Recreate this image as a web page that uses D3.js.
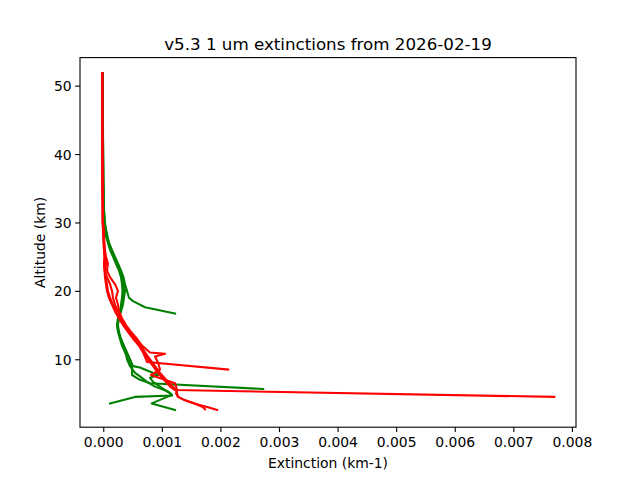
<!DOCTYPE html>
<html>
<head>
<meta charset="utf-8">
<script src="https://cdn.jsdelivr.net/npm/d3@7"></script>
<style>
html,body{margin:0;padding:0;background:#fff;}
text{font-family:"DejaVu Sans",sans-serif;fill:#000;}
</style>
</head>
<body>
<svg id="chart" width="640" height="480"></svg>
<script>
// Profiles: [altitude (km), extinction (km-1)]
const green1 = [[51.8,-0.012e-3],[46,-0.008e-3],[40,-0.004e-3],[36,0.0],[34,0.005e-3],[32,0.012e-3],[30,0.029e-3],[29,0.046e-3],[28,0.072e-3],[27,0.097e-3],[26,0.149e-3],[25,0.200e-3],[24,0.251e-3],[23,0.303e-3],[22,0.345e-3],[21,0.371e-3],[20,0.405e-3],[19,0.439e-3],[18.5,0.508e-3],[17.6,0.713e-3],[16.7,1.226e-3]];
const green2 = [[51.8,-0.010e-3],[45,-0.006e-3],[40,-0.003e-3],[36,0.0],[33,0.006e-3],[30,0.021e-3],[28,0.063e-3],[26,0.132e-3],[25,0.183e-3],[24,0.234e-3],[23,0.285e-3],[22,0.320e-3],[21,0.354e-3],[20,0.371e-3],[19,0.354e-3],[18,0.337e-3],[17,0.303e-3],[16,0.268e-3],[15,0.251e-3],[14,0.268e-3],[13,0.303e-3],[12,0.354e-3],[11,0.405e-3],[10,0.456e-3],[9,0.508e-3],[8.8,0.627e-3],[7.7,0.935e-3],[7.3,0.798e-3],[6.7,0.850e-3],[6,0.969e-3],[5.5,1.055e-3],[5,1.140e-3],[4.7,1.174e-3],[4.5,0.542e-3],[3.55,0.115e-3]];
const green3 = [[51.8,-0.010e-3],[45,-0.005e-3],[40,-0.002e-3],[36,0.001e-3],[33,0.008e-3],[30,0.012e-3],[28,0.046e-3],[26,0.115e-3],[25,0.166e-3],[24,0.217e-3],[23,0.268e-3],[22,0.303e-3],[21,0.320e-3],[20,0.328e-3],[19,0.320e-3],[18,0.303e-3],[17,0.285e-3],[16,0.251e-3],[15,0.234e-3],[14,0.251e-3],[13,0.285e-3],[12,0.320e-3],[11,0.371e-3],[10,0.422e-3],[9,0.474e-3],[8.8,0.491e-3],[7.7,0.491e-3],[7,0.627e-3],[6.5,0.798e-3],[5.65,2.730e-3]];
const green4 = [[51.8,-0.012e-3],[45,-0.007e-3],[40,-0.003e-3],[36,0.0],[33,0.005e-3],[30,0.018e-3],[28,0.055e-3],[26,0.125e-3],[25,0.175e-3],[24,0.225e-3],[23,0.277e-3],[22,0.312e-3],[21,0.337e-3],[20,0.354e-3],[19,0.345e-3],[18,0.320e-3],[17,0.294e-3],[16,0.260e-3],[15,0.243e-3],[14,0.260e-3],[13,0.294e-3],[12,0.337e-3],[11,0.388e-3],[10,0.405e-3],[9,0.456e-3],[8,0.542e-3],[7.5,0.627e-3],[6.7,0.747e-3],[6,0.884e-3],[5.3,1.106e-3],[4.8,1.174e-3],[3.55,0.827e-3],[2.6,1.226e-3]];

const red1 = [[51.8,-0.017e-3],[45,-0.017e-3],[40,-0.016e-3],[36,-0.014e-3],[33,-0.010e-3],[30,-0.005e-3],[29,0.003e-3],[28,0.012e-3],[27,0.012e-3],[26,0.021e-3],[25,0.029e-3],[24,0.046e-3],[23,0.029e-3],[22,0.046e-3],[21,0.063e-3],[20,0.080e-3],[19,0.115e-3],[18,0.166e-3],[17,0.217e-3],[16,0.268e-3],[15,0.337e-3],[14,0.422e-3],[13,0.508e-3],[12,0.610e-3],[11,0.696e-3],[10,0.764e-3],[9,0.850e-3],[8,0.935e-3],[7,1.038e-3],[6,1.140e-3],[5.5,1.226e-3],[4.5,7.70e-3]];
const red2 = [[51.8,-0.017e-3],[45,-0.016e-3],[40,-0.015e-3],[36,-0.012e-3],[33,-0.008e-3],[30,-0.005e-3],[28,0.012e-3],[26,0.029e-3],[25,0.046e-3],[24,0.080e-3],[23,0.063e-3],[22,0.115e-3],[21,0.200e-3],[20,0.251e-3],[19,0.217e-3],[18,0.251e-3],[17,0.268e-3],[16,0.320e-3],[15,0.388e-3],[14,0.474e-3],[13,0.576e-3],[12,0.662e-3],[11,0.798e-3],[10.8,1.055e-3],[10.4,0.884e-3],[9.5,0.935e-3],[8.5,0.969e-3],[7.7,0.815e-3],[6.5,1.226e-3],[5.5,1.260e-3],[5,1.243e-3],[4.5,1.277e-3],[4,1.397e-3],[3.5,1.568e-3],[3,1.700e-3],[2.7,1.738e-3]];
const red3 = [[51.8,-0.017e-3],[45,-0.017e-3],[40,-0.015e-3],[36,-0.013e-3],[33,-0.010e-3],[30,-0.014e-3],[28,0.003e-3],[26,0.012e-3],[25,0.021e-3],[24,0.012e-3],[23,0.029e-3],[22,0.063e-3],[21,0.115e-3],[20,0.149e-3],[19,0.166e-3],[18,0.200e-3],[17,0.251e-3],[16,0.303e-3],[15,0.354e-3],[14,0.439e-3],[13,0.525e-3],[12,0.610e-3],[11,0.679e-3],[10,0.730e-3],[9.6,0.747e-3],[8.5,2.132e-3]];
const red4 = [[51.8,-0.017e-3],[45,-0.017e-3],[40,-0.016e-3],[36,-0.014e-3],[33,-0.010e-3],[30,-0.005e-3],[28,0.003e-3],[26,0.012e-3],[25,0.029e-3],[24,0.012e-3],[23,0.021e-3],[22,0.029e-3],[21,0.046e-3],[20,0.063e-3],[19,0.097e-3],[18,0.149e-3],[17,0.200e-3],[16,0.268e-3],[15,0.354e-3],[14,0.456e-3],[13,0.559e-3],[12,0.644e-3],[11,0.713e-3],[10,0.798e-3],[9,0.884e-3],[8,0.969e-3],[7,1.072e-3],[6,1.191e-3],[5.5,1.243e-3],[5,1.260e-3],[4.5,1.277e-3],[4,1.397e-3],[3.5,1.568e-3],[3,1.790e-3],[2.6,1.944e-3]];

const greenProfiles = [green1, green2, green3, green4];
const redProfiles = [red1, red2, red3, red4];
const xTicks = [0, 0.001, 0.002, 0.003, 0.004, 0.005, 0.006, 0.007, 0.008];
const yTicks = [10, 20, 30, 40, 50];
const titleText = "v5.3 1 um extinctions from 2026-02-19";
const xLabelText = "Extinction (km-1)";
const yLabelText = "Altitude (km)";

const svg = d3.select("#chart");
const L = 80, R = 576, T = 57.6, B = 427.2;
const x = d3.scaleLinear().domain([-0.000397, 0.00807]).range([L, R]);
const y = d3.scaleLinear().domain([0.07, 54.1]).range([B, T]);

const line = d3.line().x(d => x(d[1])).y(d => y(d[0]));
const plot = svg.append("g");
plot.append("clipPath").attr("id","clip").append("rect").attr("x",L).attr("y",T).attr("width",R-L).attr("height",B-T);
const lines = plot.append("g").attr("clip-path","url(#clip)");

function drawSet(profiles, color){
  profiles.forEach(p => {
    lines.append("path").attr("d", line(p)).attr("fill","none")
      .attr("stroke", color).attr("stroke-width", 2.08)
      .attr("stroke-linejoin","round").attr("stroke-linecap","square");
  });
}
drawSet(greenProfiles, "#008000");
drawSet(redProfiles, "#ff0000");

// axes
const xAxis = d3.axisBottom(x).tickValues(xTicks).tickFormat(d3.format(".3f")).tickSize(4.9).tickPadding(3.5);
const yAxis = d3.axisLeft(y).tickValues(yTicks).tickFormat(d3.format("d")).tickSize(4.9).tickPadding(3.5);
const gx = svg.append("g").attr("transform",`translate(0,${B})`).call(xAxis);
const gy = svg.append("g").attr("transform",`translate(${L},0)`).call(yAxis);
[gx, gy].forEach(g => {
  g.select(".domain").remove();
  g.selectAll(".tick line").attr("stroke","#000").attr("stroke-width",1.1);
  g.selectAll(".tick text").attr("font-size","13.9px").attr("font-family","DejaVu Sans").attr("fill","#000");
});
gx.selectAll(".tick text").attr("dy", null).attr("y", 19.5);
gy.selectAll(".tick text").attr("dy","0.36em");

svg.append("rect").attr("x",L).attr("y",T).attr("width",R-L).attr("height",B-T)
  .attr("fill","none").attr("stroke","#000").attr("stroke-width",1.1);

svg.append("text").attr("x",(L+R)/2).attr("y",49.5).attr("text-anchor","middle")
  .attr("font-size","16.7px").text(titleText);
svg.append("text").attr("x",(L+R)/2).attr("y",468).attr("text-anchor","middle")
  .attr("font-size","13.9px").text(xLabelText);
svg.append("text").attr("transform",`translate(45,${(T+B)/2}) rotate(-90)`).attr("text-anchor","middle")
  .attr("font-size","13.9px").text(yLabelText);
</script>
</body>
</html>
